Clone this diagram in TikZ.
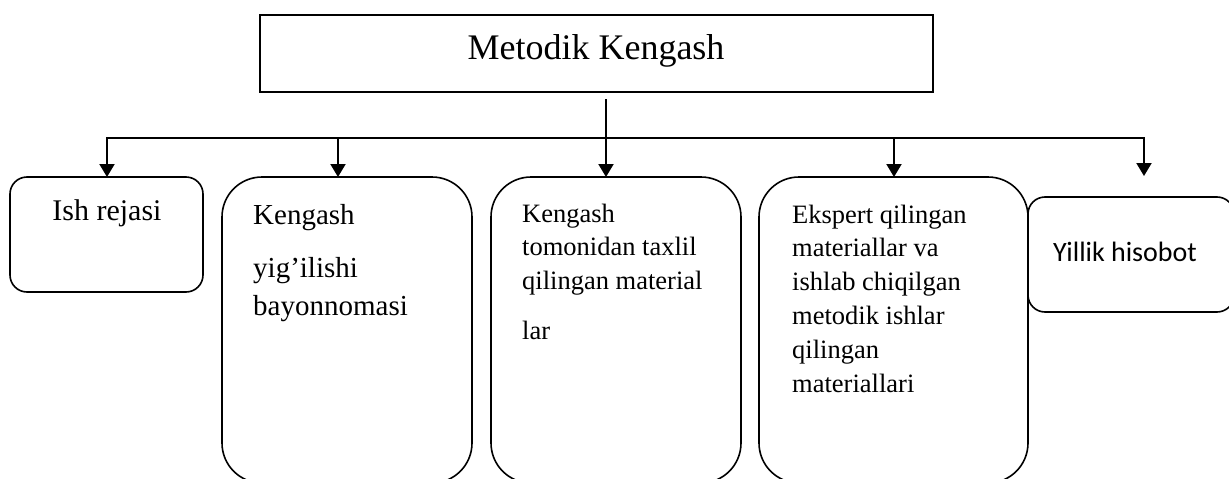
\documentclass[tikz,border=0pt]{standalone}
\usepackage{fontspec}
\setmainfont{Liberation Serif}
\newfontfamily\carlito{Carlito}
\usetikzlibrary{arrows.meta}
\begin{document}
\begin{tikzpicture}[x=1pt,y=-1pt,
  conn/.style={line width=2pt,line cap=rect},
  arr/.style={conn,-{Triangle[width=15pt,length=13pt]}},
  rbox/.style={draw,line width=1.6pt,anchor=north west,inner sep=0pt,outer sep=0pt},
  lbl/.style={inner sep=0pt,anchor=base west}]
\clip (0,0) rectangle (1229,479);
% title
\node[rbox, minimum width=673pt, minimum height=77pt] (mk) at (260,15) {};
\node[inner sep=0pt, anchor=base] (mkt) at (596,59) {\fontsize{36}{40}\selectfont Metodik Kengash};
% boxes
\node[rbox, rounded corners=17pt, minimum width=193pt, minimum height=115pt] (b1) at (10,177) {};
\node[rbox, rounded corners=40pt, minimum width=250pt, minimum height=306pt] (b2) at (222,177) {};
\node[rbox, rounded corners=40pt, minimum width=250pt, minimum height=306pt] (b3) at (491,177) {};
\node[rbox, rounded corners=40pt, minimum width=269pt, minimum height=306pt] (b4) at (759,177) {};
\node[rbox, rounded corners=17pt, minimum width=206pt, minimum height=115pt] (b5) at (1028,197) {};
% texts
\node[inner sep=0pt, anchor=base] (t1) at (107,220) {\fontsize{30}{34}\selectfont Ish rejasi};
\node[lbl] (t2) at (253,224) {\parbox[t]{220pt}{\raggedright\fontsize{29}{38}\selectfont Kengash\\[15pt]yig’ilishi\\bayonnomasi}};
\node[lbl] (t3) at (522,222) {\parbox[t]{215pt}{\raggedright\fontsize{26.5}{33.5}\selectfont Kengash\\tomonidan taxlil\\qilingan material\\[17pt]lar}};
\node[lbl] (t4) at (792,223) {\parbox[t]{230pt}{\raggedright\fontsize{26.5}{33.8}\selectfont Ekspert qilingan\\materiallar va\\ishlab chiqilgan\\metodik ishlar\\qilingan\\materiallari}};
\node[lbl] (t5) at (1053,261) {\carlito\fontsize{28}{32}\selectfont Yillik hisobot};
% connectors
\coordinate (top) at (606,100);
\coordinate (hl) at (107,138);
\coordinate (hr) at (1144,138);
\coordinate (h2) at (338,138);
\coordinate (h4) at (894,138);
\coordinate (e5) at (1144,176);
\draw[arr] (top) -- (top |- b3.north);
\draw[arr] (hr) -- (hl) -- (hl |- b1.north);
\draw[arr] (hr) -- (e5);
\draw[arr] (h2) -- (h2 |- b2.north);
\draw[arr] (h4) -- (h4 |- b4.north);
\end{tikzpicture}
\end{document}
